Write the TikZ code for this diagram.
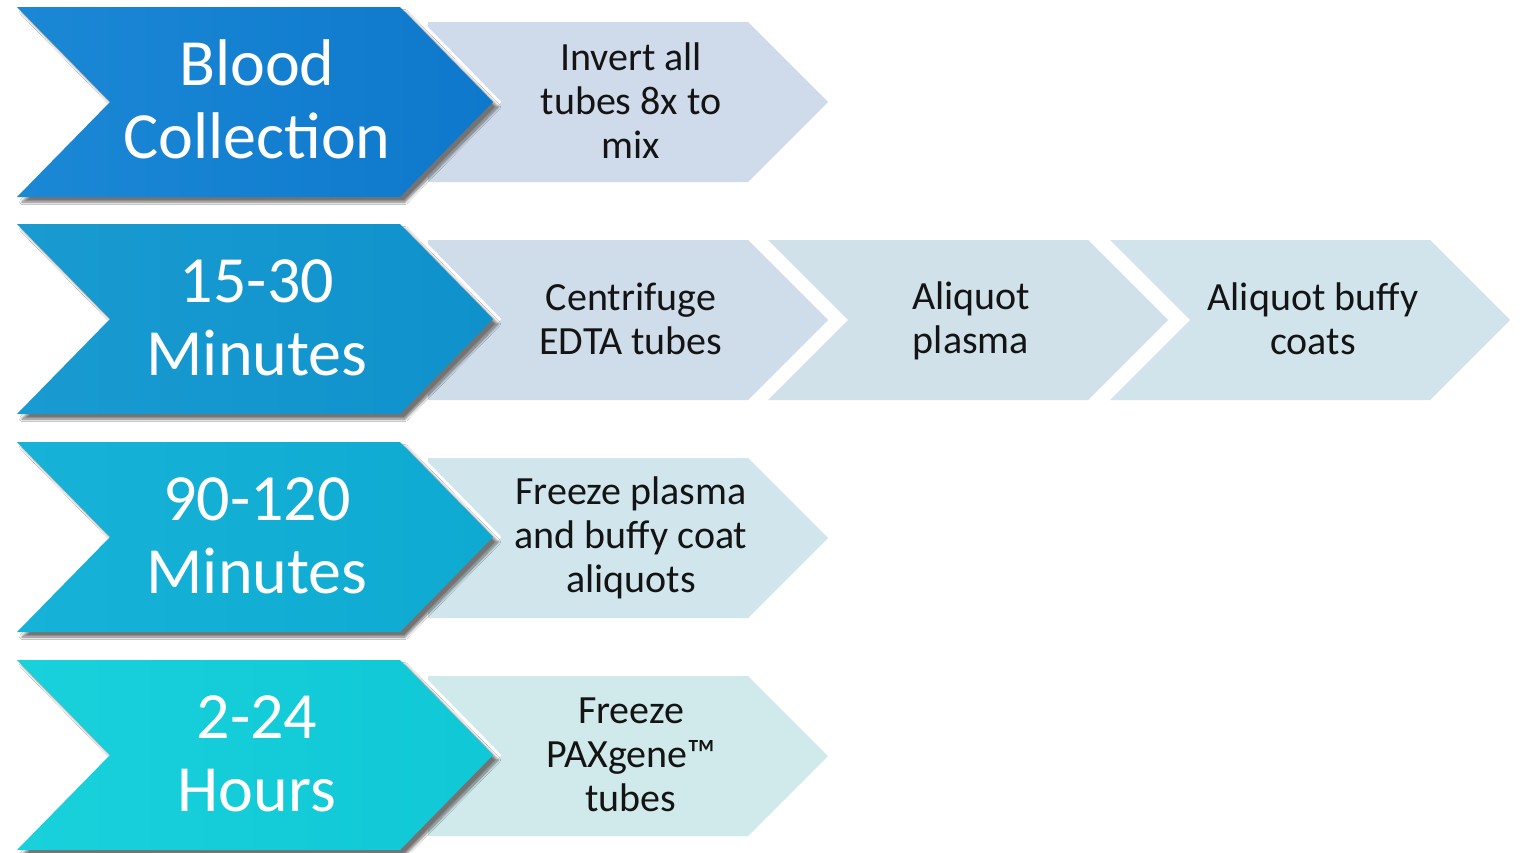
\documentclass[tikz,border=0pt]{standalone}
\usepackage{fontspec}
\setmainfont{Carlito}
\usetikzlibrary{shadows.blur}

% colours of the time-point chevrons (left / right of the gradient)
\definecolor{tA1}{HTML}{1B88D5}\definecolor{tA2}{HTML}{0E78CC}
\definecolor{tB1}{HTML}{199BD1}\definecolor{tB2}{HTML}{0F92CC}
\definecolor{tC1}{HTML}{17B2D7}\definecolor{tC2}{HTML}{0FAAD1}
\definecolor{tD1}{HTML}{18D1DB}\definecolor{tD2}{HTML}{10C8D6}
% colours of the step chevrons
\definecolor{sA}{HTML}{CFDBEB}
\definecolor{sB1}{HTML}{CFDCEA}
\definecolor{sB2}{HTML}{D0E1EA}
\definecolor{sB3}{HTML}{D1E4EC}
\definecolor{sC}{HTML}{D0E6EC}
\definecolor{sD}{HTML}{D0E9EB}

\tikzset{
  timebox/.style={shading=axis, shading angle=90,
    blur shadow={shadow xshift=5pt, shadow yshift=-5pt,
      shadow opacity=55, shadow blur radius=2.5pt, shadow blur steps=8}},
  halo/.style={draw=white, fill=white, line width=12pt, line join=miter},
  timetext/.style={text=white, align=center, font=\fontsize{66}{73}\selectfont},
  steptext/.style={text=black!92, align=center, font=\fontsize{40}{44}\selectfont},
}

% chevron with a notched tail: #1 top y, #2 left x, #3 colour
\newcommand\StepNotch[3]{%
  \fill[#3] (#2,#1) -- ++(320,0) -- ++(80,80) -- ++(-80,80) -- ++(-320,0) -- ++(80,-80) -- cycle;}
% first step of a row: flat tail
\newcommand\StepFlat[2]{%
  \fill[#2] (428,#1) -- ++(320,0) -- ++(80,80) -- ++(-80,80) -- ++(-320,0) -- cycle;}
% time-point chevron: #1 top y, #2 left colour, #3 right colour
\newcommand\TimeChev[3]{%
  \path[halo] (17,#1) -- ++(383,0) -- ++(93,95) -- ++(-93,95) -- ++(-383,0) -- ++(93,-95) -- cycle;
  \path[timebox, left color=#2, right color=#3]
    (17,#1) -- ++(383,0) -- ++(93,95) -- ++(-93,95) -- ++(-383,0) -- ++(93,-95) -- cycle;}

\begin{document}
\begin{tikzpicture}[x=1pt, y=-1pt]
  \useasboundingbox[fill=white] (0,0) rectangle (1522,852);

  % ---- step chevrons ----
  \StepFlat{22}{sA}
  \StepFlat{240}{sB1}
  \StepNotch{240}{768}{sB2}
  \StepNotch{240}{1110}{sB3}
  \StepFlat{458}{sC}
  \StepFlat{676}{sD}

  % ---- time-point chevrons ----
  \TimeChev{7}{tA1}{tA2}
  \TimeChev{224}{tB1}{tB2}
  \TimeChev{442}{tC1}{tC2}
  \TimeChev{660}{tD1}{tD2}

  % ---- labels ----
  \node[timetext] (t1) at (257,99) {Blood\\Collection};
  \node[timetext] (t2) at (257,318) {15-30\\Minutes};
  \node[timetext] (t3) at (257,536) {90-120\\Minutes};
  \node[timetext] (t4) at (257,754) {2-24\\Hours};

  \node[steptext] (s1) at (631,101) {Invert all\\tubes 8x to\\mix};
  \node[steptext] (s2) at (631,319) {Centrifuge\\EDTA tubes};
  \node[steptext] (s3) at (971,321) {Aliquot\\plasma};
  \node[steptext] (s4) at (1313,319) {Aliquot buffy\\coats};
  \node[steptext] (s5) at (631,538) {Freeze plasma\\and buffy coat\\aliquots};
  \node[steptext] (s6) at (631,755) {Freeze\\PAXgene™\\tubes};
\end{tikzpicture}
\end{document}
